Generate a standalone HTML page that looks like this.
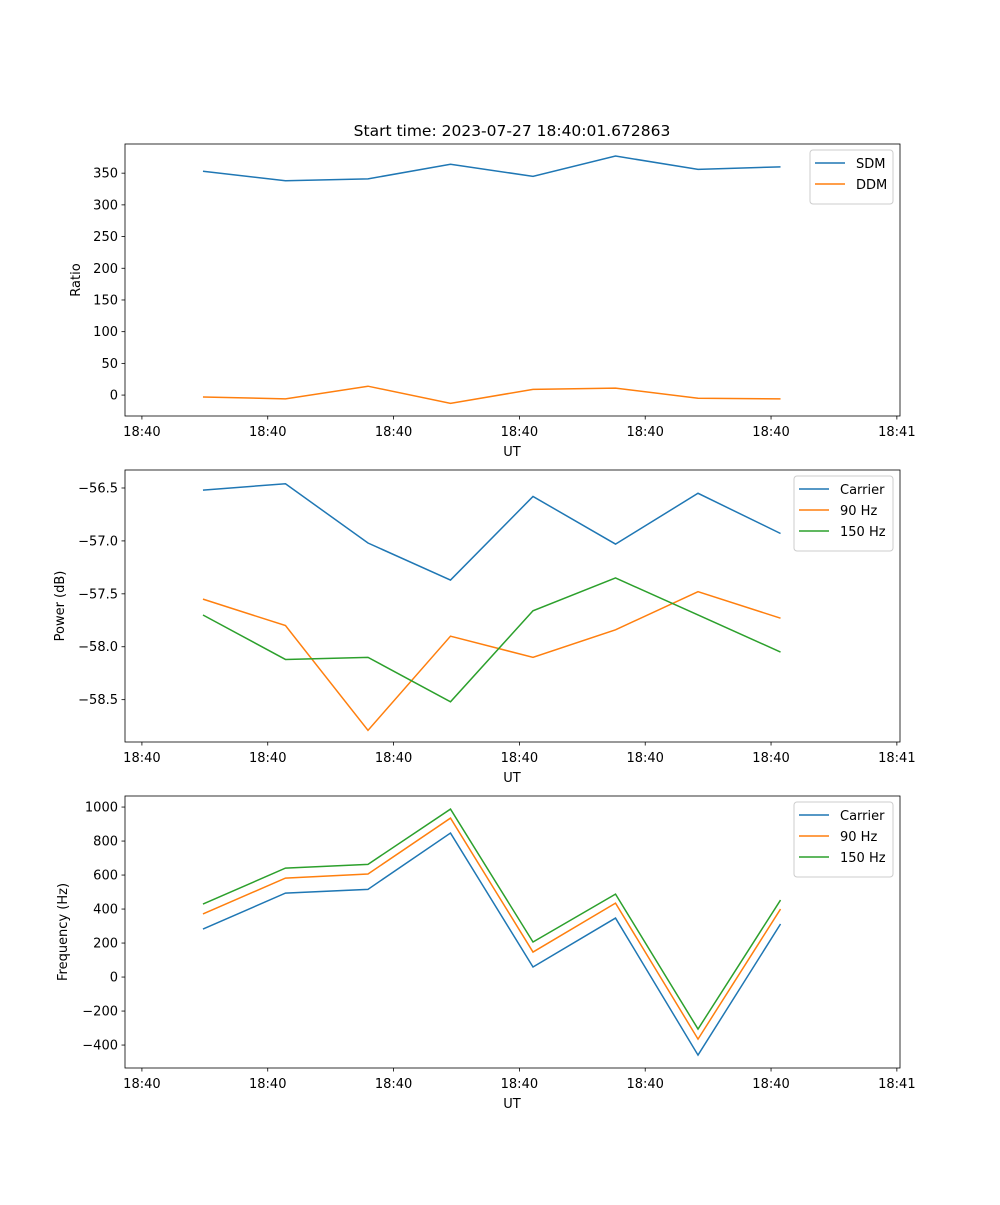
<!DOCTYPE html>
<html><head><meta charset="utf-8"><style>
body{margin:0;background:#fff}
svg text{font-family:"DejaVu Sans","Liberation Sans",sans-serif;fill:#000}
</style></head><body>
<svg id="fig" width="1000" height="1200" xmlns="http://www.w3.org/2000/svg">
<rect width="1000" height="1200" fill="#fff"/>
<text x="512" y="136" font-size="15.5" text-anchor="middle">Start time: 2023-07-27 18:40:01.672863</text>
</svg>
<script>
const xTickLabels = ["18:40","18:40","18:40","18:40","18:40","18:40","18:41"];
const sdm = [353,338,341,364,345,377,356,360];
const ddm = [-3,-6,14,-13,9,11,-5,-6];
const pCarrier = [-56.52,-56.46,-57.02,-57.37,-56.58,-57.03,-56.55,-56.93];
const p90 = [-57.55,-57.8,-58.79,-57.9,-58.1,-57.84,-57.48,-57.73];
const p150 = [-57.7,-58.12,-58.1,-58.52,-57.66,-57.35,-57.7,-58.05];
const fCarrier = [282,494,516,847,59,347,-459,312];
const f90 = [371,582,606,935,147,435,-365,400];
const f150 = [429,641,663,988,206,488,-306,453];
const ticks1 = [0,50,100,150,200,250,300,350];
const ticks2 = [-56.5,-57.0,-57.5,-58.0,-58.5];
const ticks3 = [-400,-200,0,200,400,600,800,1000];

const NS="http://www.w3.org/2000/svg", svg=document.getElementById('fig');
function mk(t,a,p){const e=document.createElementNS(NS,t);for(const k in a)e.setAttribute(k,a[k]);(p||svg).appendChild(e);return e;}
const C=['#1f77b4','#ff7f0e','#2ca02c'];
const XL=125,XR=900,xmin=-0.945,xmax=8.448;
function X(i){return XL+(i-xmin)/(xmax-xmin)*(XR-XL);}
function fmt(v,d){const s=v.toFixed(d);return v<0?'\u2212'+s.slice(1):s;}
function panel(name,top,ymin,ymax,yt,dec,ylab,series,labels,leg){
  const bot=top+272;
  const Y=v=>bot-(v-ymin)/(ymax-ymin)*(bot-top);
  const g=mk('g',{});
  
  
  series.forEach((s,k)=>{
    const pl=mk('polyline',{points:s.map((v,i)=>X(i)+','+Y(v)).join(' '),fill:'none',stroke:C[k],'stroke-width':1.5},g);
    
    
  });
  mk('rect',{x:XL,y:top,width:XR-XL,height:272,fill:'none',stroke:'#000','stroke-width':0.8},g);
  yt.forEach(v=>{
    const y=Y(v);
    mk('line',{x1:XL-3.5,x2:XL,y1:y,y2:y,stroke:'#000','stroke-width':0.8},g);
    const t=mk('text',{x:XL-7,y:y+4.5,'font-size':13,'text-anchor':'end'},g);t.textContent=fmt(v,dec);
    
    
  });
  xTickLabels.forEach((l,k)=>{
    const x=X(-0.74+k*1.525);
    mk('line',{x1:x,x2:x,y1:bot,y2:bot+3.5,stroke:'#000','stroke-width':0.8},g);
    const t=mk('text',{x:x,y:bot+20,'font-size':13,'text-anchor':'middle'},g);t.textContent=l;
    
    
  });
  const xl=mk('text',{x:512,y:bot+40,'font-size':13,'text-anchor':'middle'},g);xl.textContent='UT';
  
  
  const cy=(top+bot)/2;
  const yl=mk('text',{x:0,y:0,'font-size':13,'text-anchor':'middle',transform:`translate(${leg.yx},${cy}) rotate(-90)`},g);yl.textContent=ylab;
  
  
  const lg=mk('g',{},g);
  
  
  mk('rect',{x:leg.x,y:top+6,width:leg.w,height:12+21*labels.length,rx:3,fill:'#fff',stroke:'#ccc','stroke-width':1},lg);
  labels.forEach((l,k)=>{
    const y=top+19+k*21;
    mk('line',{x1:leg.x+5,x2:leg.x+35,y1:y,y2:y,stroke:C[k],'stroke-width':1.5},lg);
    const t=mk('text',{x:leg.x+46,y:y+5,'font-size':13},lg);t.textContent=l;
    
    
  });
}
panel('ratio-panel',144,-33,396,ticks1,0,'Ratio',[sdm,ddm],['SDM','DDM'],{x:810,w:83,yx:80});
panel('power-panel',470,-58.9,-56.33,ticks2,1,'Power (dB)',[pCarrier,p90,p150],['Carrier','90 Hz','150 Hz'],{x:794,w:99,yx:64});
panel('frequency-panel',796,-535,1065,ticks3,0,'Frequency (Hz)',[fCarrier,f90,f150],['Carrier','90 Hz','150 Hz'],{x:794,w:99,yx:67});
</script>
</body></html>
